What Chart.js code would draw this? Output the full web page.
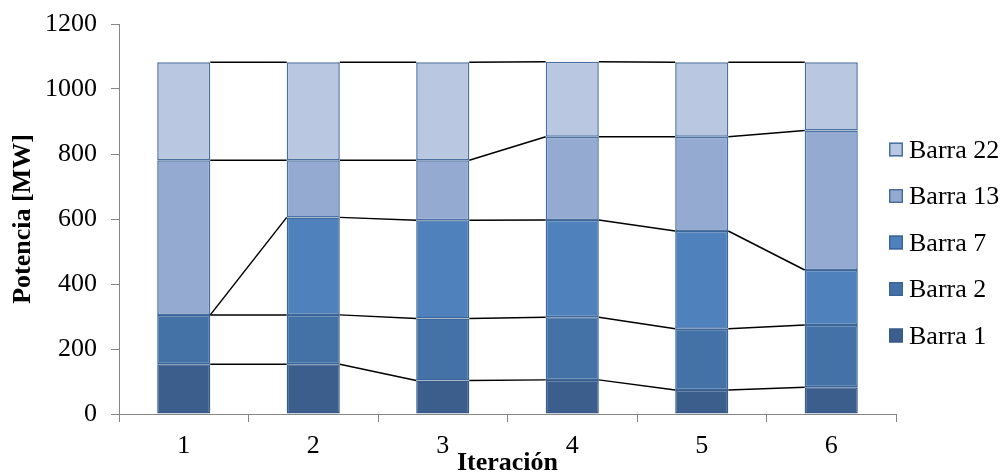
<!DOCTYPE html>
<html>
<head>
<meta charset="utf-8">
<script src="https://cdn.jsdelivr.net/npm/chart.js@4.4.1/dist/chart.umd.min.js"></script>
<style>
  html, body { margin: 0; padding: 0; background: #ffffff; }
  #wrap { width: 1006px; height: 474px; }
</style>
</head>
<body>
<div id="wrap"><canvas id="c" width="1006" height="474"></canvas></div>
<script>
// Iteraciones del despacho
const iteraciones = ['1', '2', '3', '4', '5', '6'];

// Potencia generada por barra [MW]
const barra1  = [153, 153, 103, 105,  74,  82];
const barra2  = [152, 152, 191, 193, 188, 192];
const barra7  = [  0, 300, 302, 299, 301, 169];
const barra13 = [476, 176, 185, 256, 290, 429];
const barra22 = [301, 301, 301, 231, 229, 210];

const nombres = ['Barra 1', 'Barra 2', 'Barra 7', 'Barra 13', 'Barra 22'];
const valores = [barra1, barra2, barra7, barra13, barra22];
const rellenos = ['#3b5e8c', '#4472a6', '#4f81bd', '#95aad0', '#b9c7e0'];
const bordes   = ['#375a88', '#3d6698', '#3d6698', '#4a70a2', '#4a70a2'];

const ejeY = { min: 0, max: 1200, paso: 200 };

const FUENTE = "'Liberation Serif', 'Times New Roman', serif";
const GRIS = '#868686';

// Líneas de serie que unen los bordes superiores de cada tramo apilado
const lineasSerie = {
  id: 'lineasSerie',
  afterDatasetsDraw(chart) {
    const ctx = chart.ctx;
    const y = chart.scales.y;
    const n = chart.data.labels.length;
    ctx.save();
    ctx.strokeStyle = '#000000';
    ctx.lineWidth = 1.5;
    const acum = new Array(n).fill(0);
    chart.data.datasets.forEach((ds, d) => {
      const meta = chart.getDatasetMeta(d);
      for (let i = 0; i < n; i++) acum[i] += ds.data[i];
      for (let i = 0; i < n - 1; i++) {
        const a = meta.data[i], b = meta.data[i + 1];
        const xa = a.x + a.width / 2;
        const xb = b.x - b.width / 2;
        ctx.beginPath();
        ctx.moveTo(xa, y.getPixelForValue(acum[i]));
        ctx.lineTo(xb, y.getPixelForValue(acum[i + 1]));
        ctx.stroke();
      }
    });
    ctx.restore();
  }
};

// Leyenda lateral (orden inverso al apilado)
const leyenda = {
  id: 'leyenda',
  afterDraw(chart) {
    const ctx = chart.ctx;
    const x0 = 889, y0 = 149.5, paso = 46.5, lado = 14;
    ctx.save();
    ctx.font = '26px ' + FUENTE;
    ctx.textAlign = 'left';
    ctx.textBaseline = 'alphabetic';
    const ds = chart.data.datasets;
    for (let k = 0; k < ds.length; k++) {
      const d = ds[ds.length - 1 - k];
      const cy = y0 + k * paso;
      ctx.fillStyle = d.backgroundColor;
      ctx.fillRect(x0, cy - lado / 2, lado, lado);
      ctx.strokeStyle = d.borderColor;
      ctx.lineWidth = 1.5;
      ctx.strokeRect(x0 + 0.75, cy - lado / 2 + 0.75, lado - 1.5, lado - 1.5);
      ctx.fillStyle = '#000000';
      ctx.fillText(d.label, x0 + 20, cy + 8);
    }
    ctx.restore();
  }
};

new Chart(document.getElementById('c'), {
  type: 'bar',
  data: {
    labels: iteraciones,
    datasets: nombres.map((nombre, i) => ({
      label: nombre,
      data: valores[i],
      backgroundColor: rellenos[i],
      borderColor: bordes[i],
      borderWidth: 1.5,
      borderSkipped: false,
      barPercentage: 0.41,
      categoryPercentage: 1.0
    }))
  },
  options: {
    responsive: false,
    devicePixelRatio: 1,
    animation: false,
    layout: { padding: { top: 24, right: 110, left: 0, bottom: 0 } },
    plugins: {
      legend: { display: false },
      tooltip: { enabled: false },
      title: { display: false }
    },
    scales: {
      x: {
        stacked: true,
        afterFit(scale) { scale.height = 60; },
        grid: {
          offset: true,
          drawOnChartArea: false,
          drawTicks: true,
          tickLength: 8,
          color: GRIS,
          lineWidth: 1
        },
        border: { display: true, color: GRIS, width: 1 },
        ticks: {
          color: '#000000',
          padding: 11,
          font: { family: FUENTE, size: 26, lineHeight: 1 }
        },
        title: {
          display: true,
          text: 'Iteración',
          color: '#000000',
          padding: { top: 0, bottom: 0 },
          font: { family: FUENTE, size: 26, weight: 'bold', lineHeight: 0.86 }
        }
      },
      y: {
        stacked: true,
        min: ejeY.min,
        max: ejeY.max,
        afterFit(scale) { scale.width = 119; },
        grid: {
          drawOnChartArea: false,
          drawTicks: true,
          tickLength: 8,
          color: GRIS,
          lineWidth: 1
        },
        border: { display: true, color: GRIS, width: 1 },
        ticks: {
          stepSize: ejeY.paso,
          color: '#000000',
          padding: 14,
          callback: (v) => String(v),
          font: { family: FUENTE, size: 26, lineHeight: 0.7 }
        },
        title: {
          display: true,
          text: 'Potencia [MW]',
          color: '#000000',
          padding: { top: 10, bottom: 0 },
          font: { family: FUENTE, size: 26, weight: 'bold', lineHeight: 1 }
        }
      }
    }
  },
  plugins: [lineasSerie, leyenda]
});
</script>
</body>
</html>
